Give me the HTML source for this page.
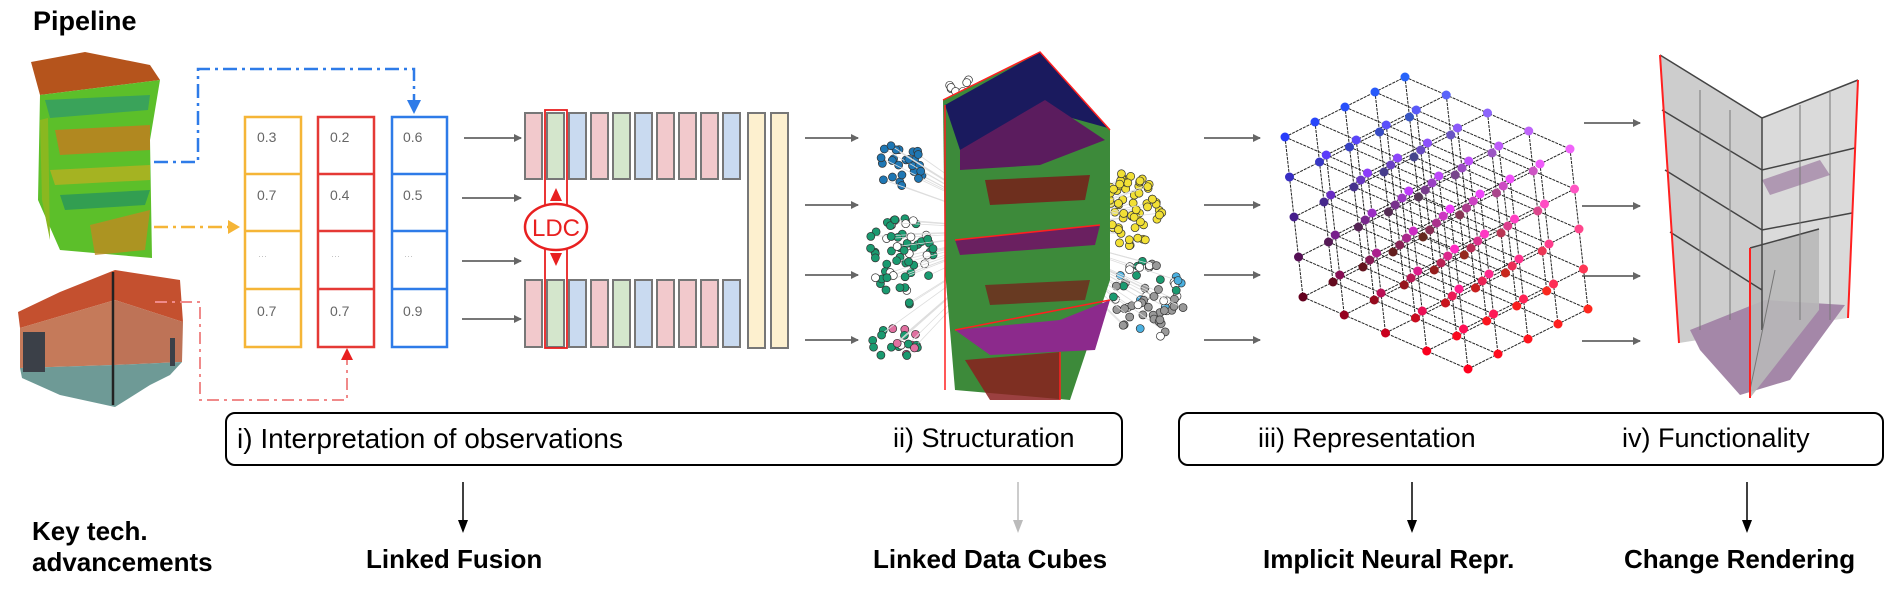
<!DOCTYPE html>
<html><head><meta charset="utf-8">
<style>
html,body{margin:0;padding:0;background:#fff;}
body{width:1889px;height:591px;overflow:hidden;position:relative;font-family:"Liberation Sans",sans-serif;}
.t{position:absolute;white-space:nowrap;color:#000;}
.b{font-weight:bold;}
</style></head><body>
<svg id="s" width="1889" height="591" viewBox="0 0 1889 591" xmlns="http://www.w3.org/2000/svg" style="position:absolute;left:0;top:0">
<defs>
<marker id="ag" markerWidth="8" markerHeight="8" refX="7" refY="4" orient="auto" markerUnits="userSpaceOnUse"><path d="M0,0 L8,4 L0,8z" fill="#666"/></marker>
</defs>
<!-- point cloud -->
<g>
<polygon points="31,62 85,52 150,65 160,80 40,95" fill="#b5541c"/>
<polygon points="40,95 160,80 150,140 152,258 60,250 38,200" fill="#5cbf2a"/>
<polygon points="45,100 150,95 148,110 50,118" fill="#3aa35a"/>
<polygon points="55,130 150,125 150,150 60,155" fill="#c77a1e" opacity=".8"/>
<polygon points="50,170 150,165 150,180 55,185" fill="#b8b020" opacity=".8"/>
<polygon points="60,195 150,190 145,205 65,210" fill="#2e9a55" opacity=".9"/>
<polygon points="90,225 150,210 145,250 95,255" fill="#c08a20" opacity=".8"/>
<polygon points="40,120 48,118 50,240 42,200" fill="#8ab820"/>
</g>
<!-- brick building -->
<g>
<polygon points="18,312 60,292 115,270 180,280 183,322 115,300 20,328" fill="#c4502f"/>
<polygon points="20,328 115,300 115,365 20,368" fill="#c57a5a"/>
<polygon points="115,300 183,322 182,362 115,365" fill="#be7357"/>
<polygon points="20,368 115,365 182,362 170,375 150,385 115,407 60,395 22,378" fill="#6e9a96"/>
<rect x="23" y="332" width="22" height="40" fill="#3b4048"/>
<rect x="170" y="338" width="5" height="28" fill="#3b4048"/>
<line x1="113" y1="272" x2="113" y2="405" stroke="#222" stroke-width="2.5"/>
</g>
<!-- dash-dot connectors -->
<path d="M154,162 H198 V69 H414 V106" fill="none" stroke="#2e7be8" stroke-width="2.5" stroke-dasharray="14,5,3,5"/>
<polygon points="407,100 421,100 414,114" fill="#2e7be8"/>
<path d="M154,227 H230" fill="none" stroke="#f5b537" stroke-width="2.5" stroke-dasharray="14,5,3,5"/>
<polygon points="228,220 240,227 228,234" fill="#f5b537"/>
<path d="M155,302 H200 V400 H347 V358" fill="none" stroke="#f08a8a" stroke-width="2" stroke-dasharray="12,5,3,5"/>
<polygon points="341,360 353,360 347,348" fill="#e82020"/>
<!-- columns -->
<g fill="none" stroke-width="2.5">
<rect x="245" y="117" width="56" height="230" stroke="#f5b537"/>
<line x1="245" y1="174" x2="301" y2="174" stroke="#f5b537"/><line x1="245" y1="231" x2="301" y2="231" stroke="#f5b537"/><line x1="245" y1="289" x2="301" y2="289" stroke="#f5b537"/>
<rect x="318" y="117" width="56" height="230" stroke="#e53935"/>
<line x1="318" y1="174" x2="374" y2="174" stroke="#e53935"/><line x1="318" y1="231" x2="374" y2="231" stroke="#e53935"/><line x1="318" y1="289" x2="374" y2="289" stroke="#e53935"/>
<rect x="392" y="117" width="55" height="230" stroke="#2e7be8"/>
<line x1="392" y1="174" x2="447" y2="174" stroke="#2e7be8"/><line x1="392" y1="231" x2="447" y2="231" stroke="#2e7be8"/><line x1="392" y1="289" x2="447" y2="289" stroke="#2e7be8"/>
</g>
<g font-size="14" fill="#666" font-family="Liberation Sans, sans-serif">
<text x="257" y="142">0.3</text><text x="330" y="142">0.2</text><text x="403" y="142">0.6</text>
<text x="257" y="200">0.7</text><text x="330" y="200">0.4</text><text x="403" y="200">0.5</text>
<text x="258" y="259" font-size="9" fill="#bbb">···</text><text x="331" y="259" font-size="9" fill="#bbb">···</text><text x="404" y="259" font-size="9" fill="#bbb">···</text>
<text x="257" y="316">0.7</text><text x="330" y="316">0.7</text><text x="403" y="316">0.9</text>
</g>
<g stroke="#777" stroke-width="2" marker-end="url(#ag)">
<line x1="464" y1="138" x2="521" y2="138"/><line x1="462" y1="198" x2="521" y2="198"/><line x1="462" y1="261" x2="521" y2="261"/><line x1="462" y1="319" x2="521" y2="319"/>
<line x1="805" y1="138" x2="858" y2="138"/><line x1="805" y1="205" x2="858" y2="205"/><line x1="805" y1="275" x2="858" y2="275"/><line x1="805" y1="340" x2="858" y2="340"/>
<line x1="1204" y1="138" x2="1260" y2="138"/><line x1="1204" y1="205" x2="1260" y2="205"/><line x1="1204" y1="275" x2="1260" y2="275"/><line x1="1204" y1="340" x2="1260" y2="340"/>
<line x1="1584" y1="123" x2="1640" y2="123"/><line x1="1582" y1="206" x2="1640" y2="206"/><line x1="1582" y1="276" x2="1640" y2="276"/><line x1="1582" y1="341" x2="1640" y2="341"/>
</g>
<g id="bars" stroke="#777" stroke-width="2"></g>
<rect x="748" y="113" width="17" height="235" fill="#fdf0cf" stroke="#777" stroke-width="2"/>
<rect x="771" y="113" width="17" height="235" fill="#fdf0cf" stroke="#777" stroke-width="2"/>
<rect x="545" y="110" width="22" height="238" fill="none" stroke="#e82020" stroke-width="1.8"/>
<ellipse cx="556" cy="227" rx="31" ry="23" fill="#fff" stroke="#e82020" stroke-width="2.5"/>
<polygon points="556,188 550,201 562,201" fill="#e82020"/><polygon points="556,266 550,253 562,253" fill="#e82020"/>
<text x="556" y="236" text-anchor="middle" font-size="24" fill="#e82020" font-family="Liberation Sans, sans-serif">LDC</text>
<!-- network -->
<g id="net"></g>
<g>
<polygon points="943,100 1040,52 1110,130 1110,280 1070,400 955,390 945,270" fill="#3d8a3a"/>
<polygon points="945,105 1040,52 1108,128 1050,112 960,150" fill="#1a1a5e"/>
<polygon points="960,150 1045,100 1105,140 1040,165 960,170" fill="#5b1c5e"/>
<polygon points="955,240 1100,225 1095,245 960,255" fill="#6a2060"/>
<polygon points="955,330 1060,320 1110,300 1095,350 990,355" fill="#8c2a8c"/>
<polygon points="965,360 1060,352 1060,400 990,400" fill="#8a1f1f" opacity=".85"/>
<polygon points="985,180 1090,175 1085,200 990,205" fill="#7a1818" opacity=".8"/>
<polygon points="985,285 1090,280 1085,300 990,305" fill="#7a1818" opacity=".7"/>
<path d="M943,100 L1040,52 L1110,130 M955,240 L1100,225 M955,330 L1110,300 M945,105 V390 M1060,352 V400" stroke="#ff2020" stroke-width="1.5" fill="none"/>
</g>
<!-- grid cube -->
<g id="cube"></g>
<!-- right building -->
<g>
<polygon points="1660,55 1762,118 1762,330 1679,343" fill="#c4c4c4" opacity=".85"/>
<polygon points="1762,118 1858,80 1848,318 1762,330" fill="#d4d4d4" opacity=".85"/>
<polygon points="1690,330 1765,300 1845,305 1790,380 1740,395 1700,350" fill="#a487a8"/>
<polygon points="1762,180 1820,160 1830,175 1770,195" fill="#a487a8" opacity=".8"/>
<polygon points="1750,248 1819,229 1819,310 1750,398" fill="#b8b8b8" opacity=".9"/>
<g stroke="#444" stroke-width="1.5" fill="none">
<path d="M1660,55 L1762,118 L1858,80 M1662,110 L1762,170 L1855,148 M1665,170 L1762,230 L1852,213 M1670,232 L1762,290 M1762,118 V330 M1750,248 L1819,229"/>
<path d="M1700,90 V330 M1730,110 V320 M1800,105 V320 M1830,90 V320 M1775,270 L1750,390" stroke="#777" stroke-width="1"/>
</g>
<path d="M1660,55 L1679,343 M1858,80 L1848,318 M1750,248 V398" stroke="#ff2020" stroke-width="2" fill="none"/>
</g>
<!-- bottom boxes -->
<rect x="226" y="413" width="896" height="52" rx="9" fill="none" stroke="#000" stroke-width="2"/>
<rect x="1179" y="413" width="704" height="52" rx="9" fill="none" stroke="#000" stroke-width="2"/>
<line x1="463" y1="482" x2="463" y2="522" stroke="#000" stroke-width="1.5"/><polygon points="458,520 468,520 463,533" fill="#000"/>
<line x1="1018" y1="482" x2="1018" y2="522" stroke="#bbb" stroke-width="1.5"/><polygon points="1013,520 1023,520 1018,533" fill="#bbb"/>
<line x1="1412" y1="482" x2="1412" y2="522" stroke="#000" stroke-width="1.5"/><polygon points="1407,520 1417,520 1412,533" fill="#000"/>
<line x1="1747" y1="482" x2="1747" y2="522" stroke="#000" stroke-width="1.5"/><polygon points="1742,520 1752,520 1747,533" fill="#000"/>
</svg>
<div class="t b" style="left:33px;top:6px;font-size:27px;">Pipeline</div>
<div class="t" style="left:237px;top:423px;font-size:28px;">i) Interpretation of observations</div>
<div class="t" style="left:893px;top:423px;font-size:27px;">ii) Structuration</div>
<div class="t" style="left:1258px;top:423px;font-size:27px;">iii) Representation</div>
<div class="t" style="left:1622px;top:423px;font-size:27px;">iv) Functionality</div>
<div class="t b" style="left:32px;top:516px;font-size:26px;line-height:31px;">Key tech.<br>advancements</div>
<div class="t b" style="left:366px;top:544px;font-size:26px;">Linked Fusion</div>
<div class="t b" style="left:873px;top:544px;font-size:26px;">Linked Data Cubes</div>
<div class="t b" style="left:1263px;top:544px;font-size:26px;">Implicit Neural Repr.</div>
<div class="t b" style="left:1624px;top:544px;font-size:26px;">Change Rendering</div>
<script>
(function(){
var NS="http://www.w3.org/2000/svg";
function el(p,n,a){var e=document.createElementNS(NS,n);for(var k in a)e.setAttribute(k,a[k]);p.appendChild(e);return e;}
var bars=document.getElementById('bars');
var cols=['#f2c9cc','#d4e6cc','#c9daf0','#f2c9cc','#d4e6cc','#c9daf0','#f2c9cc','#f2c9cc','#f2c9cc','#c9daf0'];
for(var i=0;i<10;i++){el(bars,'rect',{x:525+22*i,y:113,width:17,height:66,fill:cols[i]});el(bars,'rect',{x:525+22*i,y:280,width:17,height:67,fill:cols[i]});}
var seed=7;function r(){seed=(seed*16807)%2147483647;return seed/2147483647;}
var net=document.getElementById('net');
function cl(cx,cy,rx,ry,n,c){for(var i=0;i<n;i++){var a=r()*6.283,d=Math.sqrt(r());var x=cx+Math.cos(a)*rx*d,y=cy+Math.sin(a)*ry*d;
 if(r()<0.3)el(net,'line',{x1:x,y1:y,x2:1025,y2:230,stroke:'#ddd','stroke-width':0.8});
 el(net,'circle',{cx:x,cy:y,r:4,fill:(typeof c=='function')?c():c,stroke:'#333','stroke-width':0.7});}}
cl(975,92,30,15,22,'#fff');
cl(900,165,25,22,26,'#1f77b4');
cl(900,265,38,48,60,function(){return r()<0.75?'#1a9a70':'#fff';});
cl(1130,210,32,38,70,'#f2e035');
cl(1145,300,40,40,60,function(){var q=r();return q<0.55?'#999':q<0.7?'#fff':q<0.85?'#4ab0e0':'#1a9a70';});
cl(895,345,30,18,20,function(){var q=r();return q<0.6?'#1a9a70':q<0.8?'#e070a0':'#fff';});
cl(1030,360,30,15,12,function(){return r()<0.5?'#f08a20':'#fff';});
var cube=document.getElementById('cube');
var O=[1285,137],X=[165,72],Y=[18,160],Z=[120,-60];
function P(i,j,k){return[O[0]+X[0]*i/4+Y[0]*j/4+Z[0]*k/4,O[1]+X[1]*i/4+Y[1]*j/4+Z[1]*k/4];}
for(var a=0;a<5;a++)for(var b=0;b<5;b++){
 var l=[[P(0,a,b),P(4,a,b)],[P(a,0,b),P(a,4,b)],[P(a,b,0),P(a,b,4)]];
 l.forEach(function(s){el(cube,'line',{x1:s[0][0],y1:s[0][1],x2:s[1][0],y2:s[1][1],stroke:'#222','stroke-width':1,'stroke-dasharray':'3,1'});});}
for(var i=0;i<5;i++)for(var j=0;j<5;j++)for(var k=0;k<5;k++){var p=P(i,j,k);
 var rr=Math.round(40+200*i/4),gg=Math.round(60*(1-j/4)),bb=Math.round(220*(1-j/4)+30);
 var rc='rgb('+Math.min(255,rr+j*15)+','+(gg+(k*10))+','+bb+')';
 el(cube,'circle',{cx:p[0],cy:p[1],r:4.5,fill:rc});}
})();
</script>
</body></html>
